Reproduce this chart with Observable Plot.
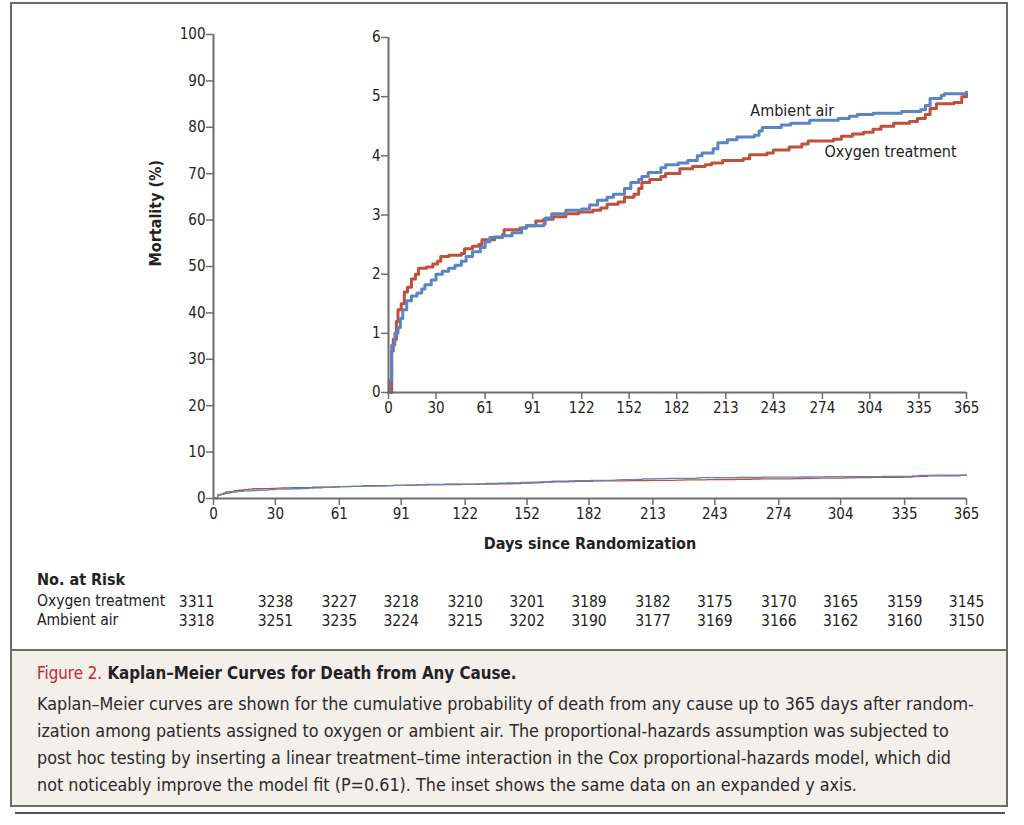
<!DOCTYPE html>
<html><head><meta charset="utf-8">
<script src="https://cdn.jsdelivr.net/npm/d3@7"></script>
<script src="https://cdn.jsdelivr.net/npm/@observablehq/plot@0.6"></script>
<style>
body{margin:0;width:1024px;height:825px;position:relative;background:#fff;font-family:"DejaVu Sans Condensed","Liberation Sans Narrow","Roboto",sans-serif;color:#222;overflow:hidden;}
#frame{position:absolute;left:10px;top:2px;width:998px;height:805px;box-sizing:border-box;border:2px solid #6b6b6b;}
#caption{position:absolute;left:10px;top:649px;width:998px;height:158px;box-sizing:border-box;border:2px solid #6b6b6b;background:#f3efe9;padding:10px 0 0 25px;}
#caption .title{font-size:16.8px;font-weight:bold;color:#222;margin:0 0 5px 0;white-space:nowrap;line-height:24px;}
#caption .title span{color:#c1272d;font-weight:normal;}
#caption .body{font-size:17.8px;line-height:27px;white-space:nowrap;color:#2a2a2a;}
#rule{position:absolute;left:15px;top:812px;width:990px;height:2px;background:#555;}
.plot{position:absolute;}
#risktitle{position:absolute;left:37px;top:570px;font-size:16px;font-weight:bold;}
.rowlab{position:absolute;left:37px;font-size:15.5px;}
</style></head>
<body>
<div id="frame"></div>
<div id="main" class="plot" style="left:0;top:0"></div>
<div id="inset" class="plot" style="left:340px;top:20px"></div>
<div id="risktitle">No. at Risk</div>
<div class="rowlab" style="top:592px">Oxygen treatment</div>
<div class="rowlab" style="top:611px">Ambient air</div>
<div id="risk" class="plot" style="left:0;top:590px"></div>
<div id="caption">
<div class="title"><span>Figure 2.</span> Kaplan–Meier Curves for Death from Any Cause.</div>
<div class="body">Kaplan–Meier curves are shown for the cumulative probability of death from any cause up to 365 days after random-<br>ization among patients assigned to oxygen or ambient air. The proportional-hazards assumption was subjected to<br>post hoc testing by inserting a linear treatment–time interaction in the Cox proportional-hazards model, which did<br>not noticeably improve the model fit (P=0.61). The inset shows the same data on an expanded y axis.</div>
</div>
<div id="rule"></div>
<script>
const FONT = '"DejaVu Sans Condensed","Liberation Sans Narrow","Roboto",sans-serif';
const dayTicks = [0,30,61,91,122,152,182,213,243,274,304,335,365];
const mainYTicks = [0,10,20,30,40,50,60,70,80,90,100];
const insetYTicks = [0,1,2,3,4,5,6];
const groups = ["Oxygen treatment","Ambient air"];
const riskOxygen = [3311,3238,3227,3218,3210,3201,3189,3182,3175,3170,3165,3159,3145];
const riskAmbient = [3318,3251,3235,3224,3215,3202,3190,3177,3169,3166,3162,3160,3150];

const ambientDays = [0,0.5,2,4,6,7.5,9,11.5,14.5,18,21,23,27,30,34,38,42,46,49,53,58,61,64,72,78,84,87,98,99,103,112,122,127,132,138,142,149,153,158,160,164,172,175,183,189,195,198,205,208,214,220,231,234,236,248,254,266,284,291,296,306,324,336,339,342,349,351,365];
const ambientMort = [0,0.2,0.8,1.0,1.1,1.25,1.4,1.55,1.63,1.68,1.75,1.82,1.9,2.0,2.05,2.1,2.15,2.22,2.3,2.38,2.45,2.55,2.62,2.65,2.7,2.78,2.82,2.85,2.95,3.02,3.08,3.1,3.17,3.25,3.3,3.35,3.45,3.55,3.6,3.65,3.72,3.8,3.85,3.88,3.92,4.0,4.05,4.12,4.22,4.27,4.32,4.35,4.42,4.48,4.52,4.55,4.6,4.63,4.67,4.7,4.72,4.75,4.78,4.85,4.97,5.02,5.05,5.08];
const oxygenDays = [0,2,3,5,6,8,10,12,14.5,17,19,24,28,31,33,38,46,48,53,57,59,67,72,73,83,87,93,98,104,112,120,129,134,138,145,149,155,158,160,165,172,175,184,192,200,204,211,224,228,239,243,253,261,265,281,286,293,300,306,311,319,329,334,339,342,346,357,362,365];
const oxygenMort = [0,0.7,0.9,1.2,1.4,1.5,1.7,1.78,1.92,2.0,2.1,2.12,2.17,2.22,2.3,2.32,2.35,2.43,2.47,2.5,2.58,2.63,2.67,2.75,2.78,2.82,2.9,2.93,2.97,3.02,3.05,3.08,3.12,3.18,3.22,3.3,3.35,3.45,3.55,3.6,3.65,3.7,3.78,3.82,3.85,3.88,3.92,3.95,4.02,4.05,4.1,4.15,4.2,4.25,4.28,4.33,4.37,4.4,4.45,4.5,4.55,4.58,4.63,4.7,4.8,4.88,4.9,5.0,5.05];

const AMB = "#5a85c4", OXY = "#c1503a", AXIS = "#6d6d6d";
const series = [
  ...oxygenDays.map((d,i)=>({group:"Oxygen treatment", day:d, value:oxygenMort[i]})),
  ...ambientDays.map((d,i)=>({group:"Ambient air", day:d, value:ambientMort[i]}))
];
const colorScale = {domain: groups, range:[OXY, AMB]};
const valueAt = (days, vals, t) => { let v = 0; days.forEach((d,i)=>{ if (d <= t) v = vals[i]; }); return v; };
const labels = [
  {group:"Ambient air", day:255, value:valueAt(ambientDays, ambientMort, 255)},
  {group:"Oxygen treatment", day:317, value:valueAt(oxygenDays, oxygenMort, 317)}
];

const mainPlot = Plot.plot({
  width:1024, height:565, marginLeft:213, marginRight:58, marginTop:34, marginBottom:67,
  style:{fontFamily:FONT, fontSize:"15px", color:"#222", background:"transparent", overflow:"visible"},
  x:{domain:[0,365]}, y:{domain:[0,100]}, color:colorScale,
  marks:[
    Plot.line(series, {x:"day", y:"value", z:"group", stroke:"group", curve:"step-after", strokeWidth:1.3}),
    Plot.ruleX([0], {stroke:AXIS, strokeWidth:2}),
    Plot.ruleY([0], {stroke:AXIS, strokeWidth:2}),
    Plot.axisX({ticks:dayTicks, tickSize:7, tickPadding:3, stroke:AXIS, strokeWidth:1.5, label:null, tickFormat:d=>String(d)}),
    Plot.axisY({ticks:mainYTicks, tickSize:7, tickPadding:1, stroke:AXIS, strokeWidth:1.5, label:null, tickFormat:d=>String(d)}),
    Plot.text(["Days since Randomization"], {frameAnchor:"bottom", dy:50, fontSize:16, fontWeight:"bold", fill:"#222"}),
    Plot.text(["Mortality (%)"], {frameAnchor:"left", dx:-58, rotate:-90, fontSize:16, fontWeight:"bold", fill:"#222"})
  ]
});
document.getElementById("main").appendChild(mainPlot);

const insetPlot = Plot.plot({
  width:660, height:412, marginLeft:48, marginRight:34, marginTop:17, marginBottom:40,
  style:{fontFamily:FONT, fontSize:"15px", color:"#222", background:"transparent", overflow:"visible"},
  x:{domain:[0,365]}, y:{domain:[0,6]}, color:colorScale,
  marks:[
    Plot.line(series, {x:"day", y:"value", z:"group", stroke:"group", curve:"step-after", strokeWidth:3}),
    Plot.ruleX([0], {stroke:AXIS, strokeWidth:2}),
    Plot.ruleY([0], {stroke:AXIS, strokeWidth:2}),
    Plot.axisX({ticks:dayTicks, tickSize:7, tickPadding:3, stroke:AXIS, strokeWidth:1.5, label:null, tickFormat:d=>String(d)}),
    Plot.axisY({ticks:insetYTicks, tickSize:7, tickPadding:1, stroke:AXIS, strokeWidth:1.5, label:null, tickFormat:d=>String(d)}),
    Plot.text(labels.slice(0,1), {x:"day", y:"value", text:"group", dy:-12, fontSize:16, fill:"#222"}),
    Plot.text(labels.slice(1), {x:"day", y:"value", text:"group", dy:26, fontSize:16, fill:"#222"})
  ]
});
document.getElementById("inset").appendChild(insetPlot);

const riskData = [
  ...dayTicks.map((d,i)=>({group:groups[0], day:d, n:String(riskOxygen[i]), first:i===0})),
  ...dayTicks.map((d,i)=>({group:groups[1], day:d, n:String(riskAmbient[i]), first:i===0}))
];
const riskPlot = Plot.plot({
  width:1024, height:45, marginLeft:213, marginRight:58, marginTop:0, marginBottom:0,
  style:{fontFamily:FONT, fontSize:"15.5px", color:"#222", background:"transparent", overflow:"visible"},
  x:{domain:[0,365], axis:null}, y:{type:"point", domain:groups, range:[12,31], padding:0, axis:null},
  marks:[
    Plot.text(riskData.filter(d=>!d.first), {x:"day", y:"group", text:"n", fill:"#222"}),
    Plot.text(riskData.filter(d=>d.first), {x:"day", y:"group", text:"n", dx:-17, fill:"#222"})
  ]
});
document.getElementById("risk").appendChild(riskPlot);
</script>
</body></html>
